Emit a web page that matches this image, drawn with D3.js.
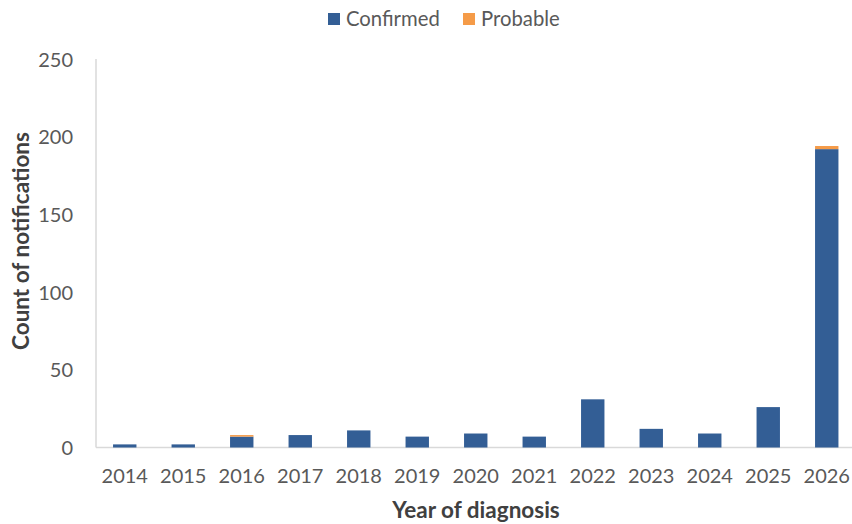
<!DOCTYPE html>
<html><head><meta charset="utf-8">
<script src="https://cdn.jsdelivr.net/npm/d3@7"></script>
<style>html,body{margin:0;padding:0;background:#fff;}svg{display:block;}</style>
</head><body>
<svg id="chart" width="852" height="524"></svg>
<script>
const years = ["2014","2015","2016","2017","2018","2019","2020","2021","2022","2023","2024","2025","2026"];
const confirmed = [2,2,7,8,11,7,9,7,31,12,9,26,192];
const probable = [0,0,1,0,0,0,0,0,0,0,0,0,2];
const yTicks = [0,50,100,150,200,250];
const seriesNames = ["Confirmed","Probable"];
const seriesColors = ["#335e95","#f59b48"];

const svg = d3.select("#chart");
const font = "Lato, 'Open Sans', sans-serif";
const x = d3.scaleBand().domain(years).range([95.5, 856]).paddingInner(0.6).paddingOuter(0.3);
const y = d3.scaleLinear().domain([0,250]).range([447.5, 59]);

const rows = years.map((yr,i)=>({year:yr, Confirmed:confirmed[i], Probable:probable[i]}));
const stack = d3.stack().keys(seriesNames)(rows);

// axes lines
svg.append("line").attr("x1",96).attr("x2",96).attr("y1",y(250)).attr("y2",y(0)).attr("stroke","#d9d9d9").attr("stroke-width",1.5);
svg.append("line").attr("x1",96).attr("x2",852).attr("y1",y(0)).attr("y2",y(0)).attr("stroke","#d9d9d9").attr("stroke-width",1.5);

// bars
stack.forEach((s,si)=>{
  svg.append("g").selectAll("rect").data(s).join("rect")
    .attr("x", d=>x(d.data.year))
    .attr("width", x.bandwidth())
    .attr("y", d=>y(d[1]))
    .attr("height", d=>Math.max(0, y(d[0])-y(d[1])))
    .attr("fill", seriesColors[si]);
});

// y tick labels
const yAxis = d3.axisLeft(y).tickValues(yTicks).tickSize(0).tickPadding(0);
const gy = svg.append("g").attr("transform","translate(73,0)").call(yAxis);
gy.select(".domain").remove();
gy.selectAll("text").attr("font-family",font).attr("font-size",20).attr("fill","#595959").attr("dy","0.35em");

// x tick labels
const xAxis = d3.axisBottom(x).tickSize(0).tickPadding(0);
const gx = svg.append("g").attr("transform","translate(0,469)").call(xAxis);
gx.select(".domain").remove();
gx.selectAll("text").attr("font-family",font).attr("font-size",20).attr("fill","#595959").attr("dy","0.71em");

// axis titles
svg.append("text").attr("x",476).attr("y",518).attr("text-anchor","middle")
  .attr("font-family",font).attr("font-weight","bold").attr("font-size",22.5).attr("fill","#404040")
  .text("Year of diagnosis");
svg.append("text").attr("transform","translate(29,241) rotate(-90)").attr("text-anchor","middle")
  .attr("font-family",font).attr("font-weight","bold").attr("font-size",22.5).attr("fill","#404040")
  .text("Count of notifications");

// legend
const legendX = [328, 463];
seriesNames.forEach((n,i)=>{
  svg.append("rect").attr("x",legendX[i]).attr("y",13).attr("width",12).attr("height",12).attr("fill",seriesColors[i]);
  svg.append("text").attr("x",legendX[i]+18).attr("y",26).attr("font-family",font).attr("font-size",20.3).attr("fill","#595959").text(n);
});
</script>
</body></html>
